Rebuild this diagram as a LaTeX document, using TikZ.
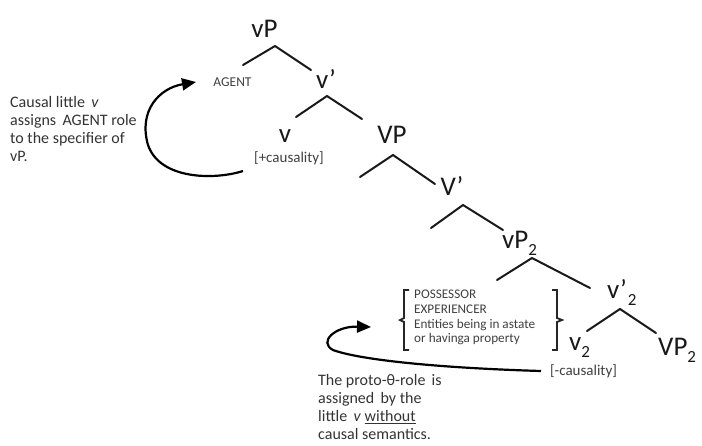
\documentclass[tikz,border=0pt]{standalone}
\usepackage{fontspec}
\setmainfont{Carlito}
\usetikzlibrary{arrows.meta,calc}
\begin{document}
\begin{tikzpicture}[x=1pt,y=-1pt,
  cat/.style={inner sep=0pt, font=\fontsize{27}{27}\selectfont, text=black!90},
  note/.style={inner sep=0pt, align=left, font=\fontsize{16}{18.2}\selectfont, text=black!80},
  feat/.style={inner sep=0pt, font=\fontsize{15}{15}\selectfont, text=black!75},
  agentstyle/.style={inner sep=0pt, font=\fontsize{13.5}{13.5}\selectfont, text=black!75},
  roles/.style={inner sep=0pt, align=left, font=\fontsize{13.2}{14.7}\selectfont, text=black!75},
  branch/.style={line width=2pt, black!90, line cap=round},
  curvearrow/.style={line width=2.2pt, black, -{Triangle[length=14pt,width=12pt]}},
  brk/.style={line width=1.8pt, black!85},
]
\useasboundingbox (0,0) rectangle (702,445);
\newcommand{\sbt}{\raisebox{-7pt}{\fontsize{17}{17}\selectfont 2}}

% tree labels
\node[cat, anchor=base] (vP) at (264.5,37) {vP};
\node[agentstyle] (agent) at (232.5,82) {AGENT};
\node[cat, anchor=base] (vbar) at (326,88) {v’};
\node[cat, anchor=base] (v) at (285,142) {v};
\node[feat] (pluscaus) at (289,158.5) {[+causality]};
\node[cat, anchor=base] (VP) at (392,143) {VP};
\node[cat, anchor=base] (Vbar) at (452,195) {V’};
\node[cat, anchor=base west] (vPtwo) at (502,248) {vP\sbt};
\node[cat, anchor=base west] (vbartwo) at (607,298) {v’\kern1pt\sbt};
\node[cat, anchor=base west] (vtwo) at (569,350) {v\sbt};
\node[cat, anchor=base west] (VPtwo) at (658,355) {VP\sbt};
\node[feat] (minuscaus) at (583.5,371) {[-causality]};

% role box
\node[roles, anchor=west] (rolebox) at (414,317.5) {POSSESSOR\\EXPERIENCER\\Entities being in astate\\or havinga property};
\draw[brk] (409,290) -- (404,290) -- (404,318) -- (400,320) -- (404,322) -- (404,350) -- (409,350);
\draw[brk] (552,290) -- (557,290) -- (557,318) -- (562,320) -- (557,322) -- (557,350) -- (552,350);

% notes
\node[note, anchor=west] (note1) at (10,129) {Causal little \,\textit{v}\\assigns \,AGENT role\\to the specifier of\\vP.};
\node[note, anchor=west] (note2) at (318,407) {The proto-θ-role \,is\\assigned \,by the\\little \,\textit{v} \underline{without}\\causal semantics.};

% branches (apex and ends as named coordinates)
\coordinate (a1) at (275,46);  \coordinate (l1) at (243,65);  \coordinate (r1) at (311,70);
\coordinate (a2) at (327,96);  \coordinate (l2) at (296,117); \coordinate (r2) at (362,119);
\coordinate (a3) at (393,155); \coordinate (l3) at (360,177); \coordinate (r3) at (435,184);
\coordinate (a4) at (463,205); \coordinate (l4) at (431,228); \coordinate (r4) at (503,230);
\coordinate (a5) at (532,258); \coordinate (l5) at (497,280); \coordinate (r5) at (590,288);
\coordinate (a6) at (620,309); \coordinate (l6) at (587,331); \coordinate (r6) at (656,333);
\draw[branch] (l1) -- (a1) -- (r1);
\draw[branch] (l2) -- (a2) -- (r2);
\draw[branch] (l3) -- (a3) -- (r3);
\draw[branch] (l4) -- (a4) -- (r4);
\draw[branch] (l5) -- (a5) -- (r5);
\draw[branch] (l6) -- (a6) -- (r6);

% curved arrows
\coordinate (s1) at (243,171); \coordinate (e1) at (196,82);
\draw[curvearrow] (s1) .. controls (215,180) and (160,180) .. (148,145)
  .. controls (138,110) and (160,88) .. (e1);
\coordinate (s2) at (541,371); \coordinate (e2) at (371,327);
\draw[curvearrow] (s2) .. controls (440,368) and (360,360) .. (333,350)
  .. controls (318,342) and (335,326) .. (e2);
\end{tikzpicture}
\end{document}
